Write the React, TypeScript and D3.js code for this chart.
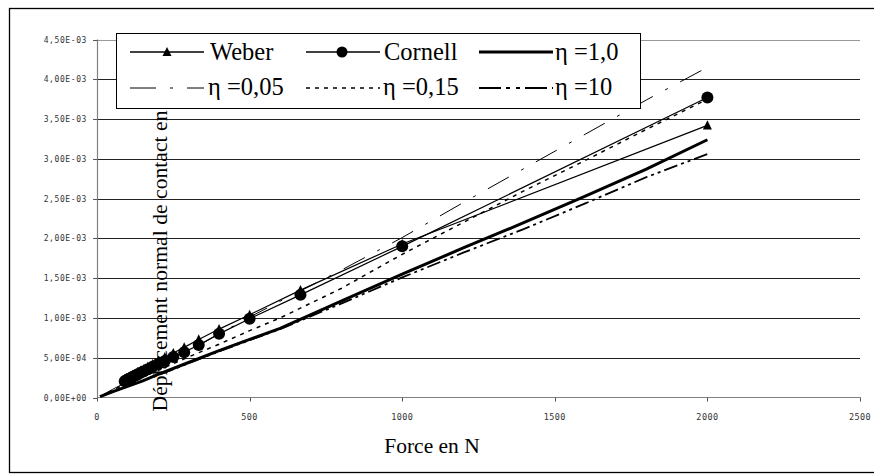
import React from "react";
import * as d3 from "d3";

const markerForces = [2000, 1000, 666.7, 500, 400, 333.3, 285.7, 250, 222.2, 200, 181.8, 166.7, 153.8, 142.9, 133.3, 125, 117.6, 111.1, 105.3, 100, 95.2, 90.9];
const weberValues = [3.42, 1.93, 1.35, 1.04, 0.86, 0.73, 0.63, 0.56, 0.51, 0.46, 0.42, 0.39, 0.36, 0.34, 0.32, 0.3, 0.285, 0.27, 0.26, 0.245, 0.235, 0.225];
const cornellValues = [3.77, 1.9, 1.29, 0.99, 0.8, 0.66, 0.57, 0.51, 0.46, 0.42, 0.385, 0.355, 0.33, 0.31, 0.29, 0.275, 0.26, 0.245, 0.235, 0.225, 0.215, 0.205];

const etaForces = [10, 50, 100, 150, 200, 300, 400, 500, 600, 800, 1000, 1200, 1400, 1600, 1800, 2000];
const eta005 = [0.015, 0.1, 0.2, 0.29, 0.38, 0.58, 0.8, 1.01, 1.21, 1.6, 2.01, 2.45, 2.88, 3.31, 3.74, 4.15];
const eta015 = [0.015, 0.09, 0.18, 0.26, 0.34, 0.51, 0.67, 0.84, 1.0, 1.37, 1.8, 2.2, 2.6, 2.98, 3.37, 3.75];
const eta10 = [0.01, 0.07, 0.14, 0.21, 0.29, 0.44, 0.59, 0.73, 0.87, 1.21, 1.55, 1.88, 2.2, 2.53, 2.87, 3.24];
const eta100 = [0.01, 0.07, 0.14, 0.21, 0.28, 0.43, 0.58, 0.72, 0.86, 1.18, 1.51, 1.82, 2.12, 2.44, 2.77, 3.06];

const xTicks = [0, 500, 1000, 1500, 2000, 2500];
const yTicks = [0, 0.5, 1, 1.5, 2, 2.5, 3, 3.5, 4, 4.5];
const yTickLabels = ["0,00E+00", "5,00E-04", "1,00E-03", "1,50E-03", "2,00E-03", "2,50E-03", "3,00E-03", "3,50E-03", "4,00E-03", "4,50E-03"];

const serif = "'Liberation Serif', 'Times New Roman', serif";
const mono = "'DejaVu Sans Mono', monospace";

export default function App() {
  const x = d3.scaleLinear().domain([0, 2500]).range([97, 860]);
  const y = d3.scaleLinear().domain([0, 4.5]).range([397.5, 39.5]);
  const line = d3
    .line<[number, number]>()
    .x((d) => x(d[0]))
    .y((d) => y(d[1]));
  const pts = (fs: number[], vs: number[]) => fs.map((f, i) => [f, vs[i]] as [number, number]);

  const tri = (cx: number, cy: number, s: number) => {
    const h = s * 0.9;
    return `M${cx},${cy - h / 2 - 1}L${cx + s / 2},${cy + h / 2}L${cx - s / 2},${cy + h / 2}Z`;
  };

  const legendRows = [
    { y: 52, ty: 60 },
    { y: 88, ty: 95 },
  ];

  return (
    <svg width={874} height={474} style={{ position: "absolute", left: 0, top: 0, background: "#fff" }}>
      <rect x={0} y={0} width={874} height={474} fill="#fff" />
      <rect x={9.5} y={8.5} width={900} height={464} fill="none" stroke="#000" strokeWidth={1.3} />
      {/* gridlines */}
      {yTicks.slice(1).map((t, i) => (
        <line key={t} x1={97} x2={860} y1={Math.round(y(t)) + 0.5} y2={Math.round(y(t)) + 0.5} stroke={i === yTicks.length - 2 ? "#999" : "#222"} strokeWidth={1} />
      ))}
      {/* axes */}
      <line x1={97.5} x2={97.5} y1={39.5} y2={398} stroke="#808080" strokeWidth={1.2} />
      <line x1={97} x2={860.5} y1={397.5} y2={397.5} stroke="#808080" strokeWidth={1.2} />
      {yTicks.map((t) => (
        <line key={t} x1={93} x2={97.5} y1={Math.round(y(t)) + 0.5} y2={Math.round(y(t)) + 0.5} stroke="#555" strokeWidth={1} />
      ))}
      {xTicks.map((t) => (
        <line key={t} x1={Math.round(x(t)) + 0.5} x2={Math.round(x(t)) + 0.5} y1={397.5} y2={401.5} stroke="#555" strokeWidth={1} />
      ))}
      {yTicks.map((t, i) => (
        <text key={t} x={87} y={y(t) + 3} textAnchor="end" fontFamily={mono} fontSize={8} letterSpacing={0.6} fill="#333">
          {yTickLabels[i]}
        </text>
      ))}
      {xTicks.map((t) => (
        <text key={t} x={x(t)} y={420} textAnchor="middle" fontFamily={mono} fontSize={8.5} letterSpacing={0.4} fill="#333">
          {t}
        </text>
      ))}

      {/* series */}
      <path d={line(pts(etaForces, eta10)) || ""} fill="none" stroke="#000" strokeWidth={3} strokeLinejoin="round" />
      <path d={line(pts(etaForces, eta100)) || ""} fill="none" stroke="#000" strokeWidth={1.8} strokeDasharray="14,4,3,4,3,4" />
      <path d={line(pts(etaForces, eta015)) || ""} fill="none" stroke="#000" strokeWidth={1.5} strokeDasharray="4,5" />
      <path d={line(pts(etaForces, eta005)) || ""} fill="none" stroke="#000" strokeWidth={1} strokeDasharray="24,14,3,14" />
      <path d={line(pts(markerForces, weberValues)) || ""} fill="none" stroke="#000" strokeWidth={1.2} />
      <path d={line(pts(markerForces, cornellValues)) || ""} fill="none" stroke="#000" strokeWidth={1.2} />
      {markerForces.map((f, i) => (
        <circle key={"c" + i} cx={x(f)} cy={y(cornellValues[i])} r={6} fill="#000" />
      ))}
      {markerForces.map((f, i) => (
        <path key={"t" + i} d={tri(x(f), y(weberValues[i]), 9)} fill="#000" />
      ))}

      {/* legend */}
      <rect x={116.5} y={33.5} width={524} height={75} fill="#fff" stroke="#000" strokeWidth={1} />
      <line x1={130} x2={204} y1={legendRows[0].y} y2={legendRows[0].y} stroke="#000" strokeWidth={1.5} />
      <path d={tri(167, legendRows[0].y, 9)} fill="#000" />
      <text x={210} y={legendRows[0].ty} fontFamily={serif} fontSize={24.5}>Weber</text>
      <line x1={306} x2={380} y1={legendRows[0].y} y2={legendRows[0].y} stroke="#000" strokeWidth={1.5} />
      <circle cx={342} cy={legendRows[0].y} r={5.5} fill="#000" />
      <text x={384} y={legendRows[0].ty} fontFamily={serif} fontSize={24.5}>Cornell</text>
      <line x1={479} x2={553} y1={legendRows[0].y} y2={legendRows[0].y} stroke="#000" strokeWidth={3.2} />
      <text x={555} y={legendRows[0].ty} fontFamily={serif} fontSize={24.5}>η =1,0</text>

      <line x1={130} x2={204} y1={legendRows[1].y} y2={legendRows[1].y} stroke="#000" strokeWidth={1} strokeDasharray="26,14,3,14" />
      <text x={208} y={legendRows[1].ty} fontFamily={serif} fontSize={24.5}>η =0,05</text>
      <line x1={306} x2={380} y1={legendRows[1].y} y2={legendRows[1].y} stroke="#000" strokeWidth={1.5} strokeDasharray="4,5" />
      <text x={383} y={legendRows[1].ty} fontFamily={serif} fontSize={24.5}>η =0,15</text>
      <line x1={479} x2={553} y1={legendRows[1].y} y2={legendRows[1].y} stroke="#000" strokeWidth={1.8} strokeDasharray="22,5,4,6,4,5" />
      <text x={555} y={legendRows[1].ty} fontFamily={serif} fontSize={24.5}>η =10</text>

      {/* axis titles */}
      <text transform="translate(167,261) rotate(-90)" textAnchor="middle" fontFamily={serif} fontSize={21.7}>
        Déplacement normal de contact en
      </text>
      <text x={432} y={453} textAnchor="middle" fontFamily={serif} fontSize={21.5}>
        Force en N
      </text>
    </svg>
  );
}
